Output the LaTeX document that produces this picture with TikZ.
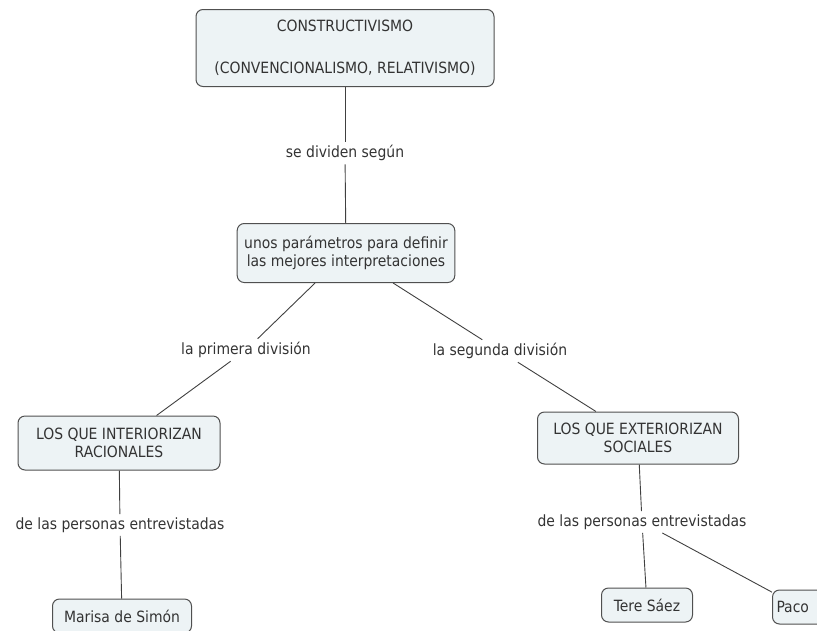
\documentclass[tikz,border=0pt]{standalone}
\usepackage{fontspec}
\setmainfont{DejaVu Sans Condensed}
\usetikzlibrary{positioning,calc}
\definecolor{conceptfill}{RGB}{237,243,245}
\definecolor{conceptline}{RGB}{80,80,80}
\tikzset{font=\fontsize{15.5}{18}\selectfont}
\tikzset{concept/.style={draw=conceptline, fill=conceptfill, rounded corners=7pt, line width=1pt, align=center, inner xsep=7pt, inner ysep=5pt, text=black!80},
	linkword/.style={align=center, inner sep=3pt, text=black!80}}

\begin{document}
\begin{tikzpicture}[x=1pt, y=-1pt]
	\useasboundingbox (0,0) rectangle (817,630);
	\clip (0,0) rectangle (817,630);
	\begin{scope}[line width=0.9pt, draw=black!75]
		\node[concept, minimum width=298pt, minimum height=77pt] (constr) at (345, 48) {CONSTRUCTIVISMO\\[24pt](CONVENCIONALISMO, RELATIVISMO)};
		\node[linkword] (divid) at (345, 153) {se dividen según};
		\node[concept, minimum height=59pt] (param) at (346, 253) {unos parámetros para definir\\las mejores interpretaciones};
		\node[linkword] (prim) at (246, 350) {la primera división};
		\node[linkword] (segu) at (500, 351) {la segunda división};
		\node[concept, minimum width=202pt, minimum height=54pt] (inter) at (119, 443) {LOS QUE INTERIORIZAN\\RACIONALES};
		\node[concept, minimum width=201pt, minimum height=52pt] (exter) at (638, 438) {LOS QUE EXTERIORIZAN\\SOCIALES};
		\node[linkword] (persi) at (120, 525) {de las personas entrevistadas};
		\node[linkword] (perse) at (642, 522) {de las personas entrevistadas};
		\node[concept, minimum width=139pt, minimum height=34pt] (marisa) at (122, 616) {Marisa de Simón};
		\node[concept, minimum width=91pt, minimum height=34pt] (tere) at (647, 605) {Tere Sáez};
		\node[concept, minimum height=34pt, inner xsep=4pt, text width=46pt, align=left, anchor=west] (paco) at (772, 607) {Paco};

		\draw (constr) -- (divid);
		\draw (divid) -- (param);
		\draw (param) -- (prim);
		\draw (prim) -- (inter);
		\draw (param) -- (segu);
		\draw (segu) -- (exter);
		\draw (inter) -- (persi);
		\draw (persi) -- (marisa);
		\draw (exter) -- (perse);
		\draw (perse) -- (tere);
		\draw (perse) -- (paco);
	\end{scope}
\end{tikzpicture}
\end{document}
